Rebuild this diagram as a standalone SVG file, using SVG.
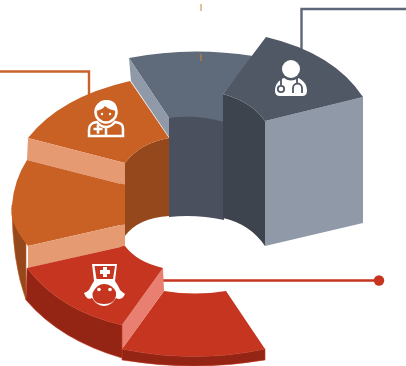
<svg xmlns="http://www.w3.org/2000/svg" width="406" height="366" viewBox="0 0 406 366">
<style>
.ln{fill:none;stroke-width:2.4}
.ic{fill:none;stroke:#fff;stroke-width:2.500}
.wf{fill:#fff}
</style>
<rect width="406" height="366" fill="#fff"/>
<g id="connectors">
<path class="ln" stroke="#c9622a" d="M0 71.5H89V95"/>
<path class="ln" stroke="#5c6778" d="M406 9H301.500V52"/>
<path class="ln" stroke="#c5351f" d="M160 280.500H379"/>
<circle cx="379" cy="280.500" r="5.200" fill="#c5351f"/>
</g>
<g id="slice-grey">
<path fill="#5f6a7b" d="M129 58Q190 46 253 56L223 94V125L169 118Z"/>
<path fill="#8f99a8" d="M129 58L169 118V137L131 81Z"/>
<path fill="#4a505d" d="M169 118Q196 114 224 122V220Q196 214 169 217Z"/>
<path fill="#3d444d" d="M223 94Q252 102 265 121V246Q250 224 223 218Z"/>
<path fill="#8f99a8" d="M265 121L363 97V223L265 246Z"/>
<path fill="#505866" d="M266 37Q334 53 363 97L265 121Q252 102 223 94Z"/>
</g>
<path stroke="#d98030" stroke-width="1" fill="none" d="M201 4V11M201 54V61"/>
<g id="icon-doctor">
<circle class="wf" cx="291" cy="69" r="9"/>
<path class="wf" d="M275 91C275 84 279 80 284 78Q291 83 298 78C303 80 307 84 307 91Q307 96 302 96H280Q275 96 275 91Z"/>
<path fill="none" stroke="#505866" stroke-width="1.800" d="M281 78V85M297 78V83M293 93V88A4.500 4.500 0 0 1 302 88V93"/>
<circle cx="281" cy="89" r="3.200" fill="none" stroke="#505866" stroke-width="1.800"/>
</g>
<g id="slice-orange">
<path fill="#95481c" d="M125 163Q140 143 169 138V216Q138 218 125 236V250H120V163Z"/>
<path fill="#95481c" stroke="#c96125" stroke-width=".6" d="M12 205Q12 262 26 300V240Z"/>
<path fill="#c96125" d="M130 81Q60 97 28 138L125 163Q140 143 169 138Z"/>
<path fill="#e69a72" d="M28 138L125 163V185L27 160Z"/>
<path fill="#c96125" d="M27 160L125 185V224L28 246Q8 222 12 205Q14 180 27 160Z"/>
<path fill="#e69a72" d="M28 246L125 224V246L28 268Z"/>
</g>
<g id="icon-person">
<circle class="ic" cx="106" cy="112" r="10.500"/>
<path class="wf" d="M95.500 111C96 102 102 100 107 100C114 100 118 105 116.500 111C112 110 108 109 105 106C103 109 100 110 95.500 111Z"/>
<circle class="wf" cx="102" cy="114" r="1.200"/><circle class="wf" cx="110" cy="114" r="1.200"/>
<path class="ic" d="M97 122L93 123Q89 125 89 130V136H123V129Q123 124 119 123L115 122Q111 127 106 127Q101 127 97 122ZM106 127V136"/>
<path fill="none" stroke="#fff" stroke-width="2.600" d="M98 124.500V133.500M93.500 129H102.500"/>
</g>
<g id="slice-red">
<path fill="#c5351f" d="M164 291Q195 296 226 291L265 349Q195 364 122 349Z"/>
<path fill="#942514" stroke="#c5351f" stroke-width=".6" d="M122 349Q195 364 265 349V360Q195 372 122 360Z"/>
<path fill="#e87f70" d="M163 268L164 291L122 349V325Z"/>
<path fill="#942514" stroke="#c5351f" stroke-width=".6" d="M27 268Q60 311 122 325V358Q60 340 26 300Z"/>
<path fill="#c5351f" d="M125 246Q137 262 163 268L122 325Q60 311 27 268Z"/>
</g>
<g id="icon-nurse">
<path class="wf" d="M92 264H117L115 281Q119 287 120 290Q122 292 125 294Q122 301 116 298Q111 306 104 306Q97 306 92 298Q87 301 84 293Q89 291 90 288Q92 284 94 281Z"/>
<path fill="#c5351f" d="M94.500 266H115L113 279H96.500ZM92.500 293Q97 284 104 284Q112 284 116 292Q117 304 104 304Q92 304 92.500 293Z"/>
<path class="wf" d="M103 267H107V270H110V274H107V277H103V274H100V270H103Z"/>
<circle class="wf" cx="99" cy="289.500" r="1.800"/><circle class="wf" cx="110" cy="289.500" r="1.800"/>
</g>
</svg>
